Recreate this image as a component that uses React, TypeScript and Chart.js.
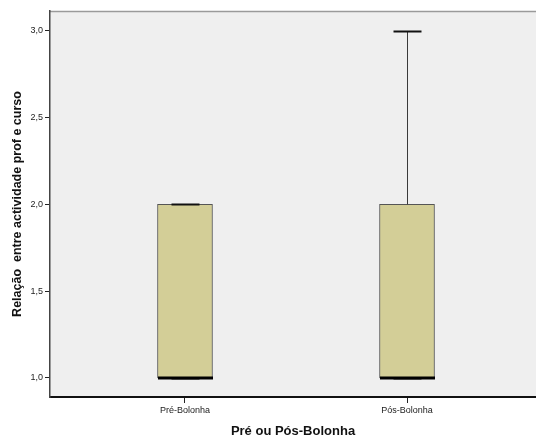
import React, { useEffect, useRef } from "react";
import { Chart, registerables } from "chart.js";

Chart.register(...registerables);

const categories = ["Pré-Bolonha", "Pós-Bolonha"];
const minVals = [1.0, 1.0];
const q1Vals = [1.0, 1.0];
const medianVals = [1.0, 1.0];
const q3Vals = [2.0, 2.0];
const maxVals = [2.0, 3.0];
const yTicks = [1.0, 1.5, 2.0, 2.5, 3.0];

const boxPlugin = {
  id: "boxExtras",
  beforeDraw(chart: any) {
    const { ctx, chartArea } = chart;
    ctx.save();
    ctx.fillStyle = "#efefef";
    ctx.fillRect(chartArea.left, chartArea.top, chartArea.right - chartArea.left, chartArea.bottom - chartArea.top);
    ctx.strokeStyle = "#9a9a9a";
    ctx.lineWidth = 1.5;
    ctx.beginPath();
    ctx.moveTo(chartArea.left, chartArea.top + 0.5);
    ctx.lineTo(chartArea.right, chartArea.top + 0.5);
    ctx.stroke();
    ctx.restore();
  },
  afterDatasetsDraw(chart: any) {
    const { ctx, scales } = chart;
    const xs = scales.x;
    const ys = scales.y;
    ctx.save();
    categories.forEach((_, i) => {
      const cx = Math.round(xs.getPixelForValue(i + 1)) + 0.5;
      const half = 27.5;
      const capHalf = 14;
      const yMax = Math.round(ys.getPixelForValue(maxVals[i])) + 0.5;
      const yQ3 = ys.getPixelForValue(q3Vals[i]);
      const yMin = Math.round(ys.getPixelForValue(minVals[i])) + 0.5;
      const yQ1 = ys.getPixelForValue(q1Vals[i]);
      const yMed = ys.getPixelForValue(medianVals[i]);
      ctx.strokeStyle = "#3a3a3a";
      ctx.lineWidth = 1;
      if (yMax < yQ3) {
        ctx.beginPath();
        ctx.moveTo(cx, yQ3);
        ctx.lineTo(cx, yMax);
        ctx.stroke();
      }
      ctx.strokeStyle = "#111";
      ctx.lineWidth = 2;
      ctx.beginPath();
      ctx.moveTo(cx - capHalf, yMax);
      ctx.lineTo(cx + capHalf, yMax);
      ctx.stroke();
      if (yMin > yQ1) {
        ctx.strokeStyle = "#3a3a3a";
        ctx.lineWidth = 1;
        ctx.beginPath();
        ctx.moveTo(cx, yQ1);
        ctx.lineTo(cx, yMin);
        ctx.stroke();
        ctx.strokeStyle = "#111";
        ctx.lineWidth = 2;
        ctx.beginPath();
        ctx.moveTo(cx - capHalf, yMin);
        ctx.lineTo(cx + capHalf, yMin);
        ctx.stroke();
      }
      ctx.strokeStyle = "#000";
      ctx.lineWidth = 3;
      ctx.beginPath();
      ctx.moveTo(cx - half, yMed);
      ctx.lineTo(cx + half, yMed);
      ctx.stroke();
    });
    ctx.restore();
  },
};

export default function App() {
  const ref = useRef<HTMLCanvasElement | null>(null);
  useEffect(() => {
    if (!ref.current) return;
    const chart = new Chart(ref.current, {
      type: "bar",
      data: {
        datasets: [
          {
            data: categories.map((_, i) => ({ x: i + 1, y: [q1Vals[i], q3Vals[i]] })) as any,
            backgroundColor: "#d3ce97",
            borderColor: "#555555",
            borderWidth: 1,
            borderSkipped: false,
            barThickness: 55,
          },
        ],
      },
      options: {
        animation: false,
        responsive: false,
        maintainAspectRatio: false,
        layout: { padding: { top: 11, right: 0, left: 0, bottom: 0 } },
        plugins: { legend: { display: false }, tooltip: { enabled: false } },
        scales: {
          x: {
            type: "linear",
            offset: false,
            min: 0.392,
            max: 2.581,
            afterBuildTicks: (axis: any) => {
              axis.ticks = categories.map((_, i) => ({ value: i + 1 }));
            },
            afterFit: (axis: any) => {
              axis.height = 42;
            },
            ticks: {
              callback: (v: any) => categories[Number(v) - 1] ?? "",
              font: { family: "Arial, 'Liberation Sans'", size: 9 },
              color: "#222",
              padding: 2,
              maxRotation: 0,
            },
            grid: {
              offset: false,
              drawOnChartArea: false,
              tickLength: 6,
              tickColor: "#222",
            },
            border: { color: "#111", width: 2 },
            title: {
              display: true,
              text: "Pré ou Pós-Bolonha",
              font: { family: "Arial, 'Liberation Sans'", size: 13, weight: "bold" },
              color: "#111",
              padding: { top: 5, bottom: 0 },
            },
          },
          y: {
            type: "linear",
            min: 0.89,
            max: 3.115,
            afterBuildTicks: (axis: any) => {
              axis.ticks = yTicks.map((v) => ({ value: v }));
            },
            afterFit: (axis: any) => {
              axis.width = 50;
            },
            ticks: {
              callback: (v: any) => Number(v).toFixed(1).replace(".", ","),
              font: { family: "Arial, 'Liberation Sans'", size: 9 },
              color: "#222",
              padding: 2,
            },
            grid: {
              drawOnChartArea: false,
              tickLength: 5,
              tickColor: "#222",
            },
            border: { color: "#444", width: 1.5 },
            title: {
              display: true,
              text: "Relação  entre actividade prof e curso",
              font: { family: "Arial, 'Liberation Sans'", size: 12.5, weight: "bold" },
              color: "#111",
              padding: { top: 10, bottom: 4 },
            },
          },
        },
      },
      plugins: [boxPlugin],
    });
    return () => chart.destroy();
  }, []);
  return (
    <div style={{ position: "absolute", left: 0, top: 0, width: 536, height: 439, background: "#fff" }}>
      <canvas ref={ref} width={536} height={439} style={{ width: 536, height: 439 }} />
    </div>
  );
}
